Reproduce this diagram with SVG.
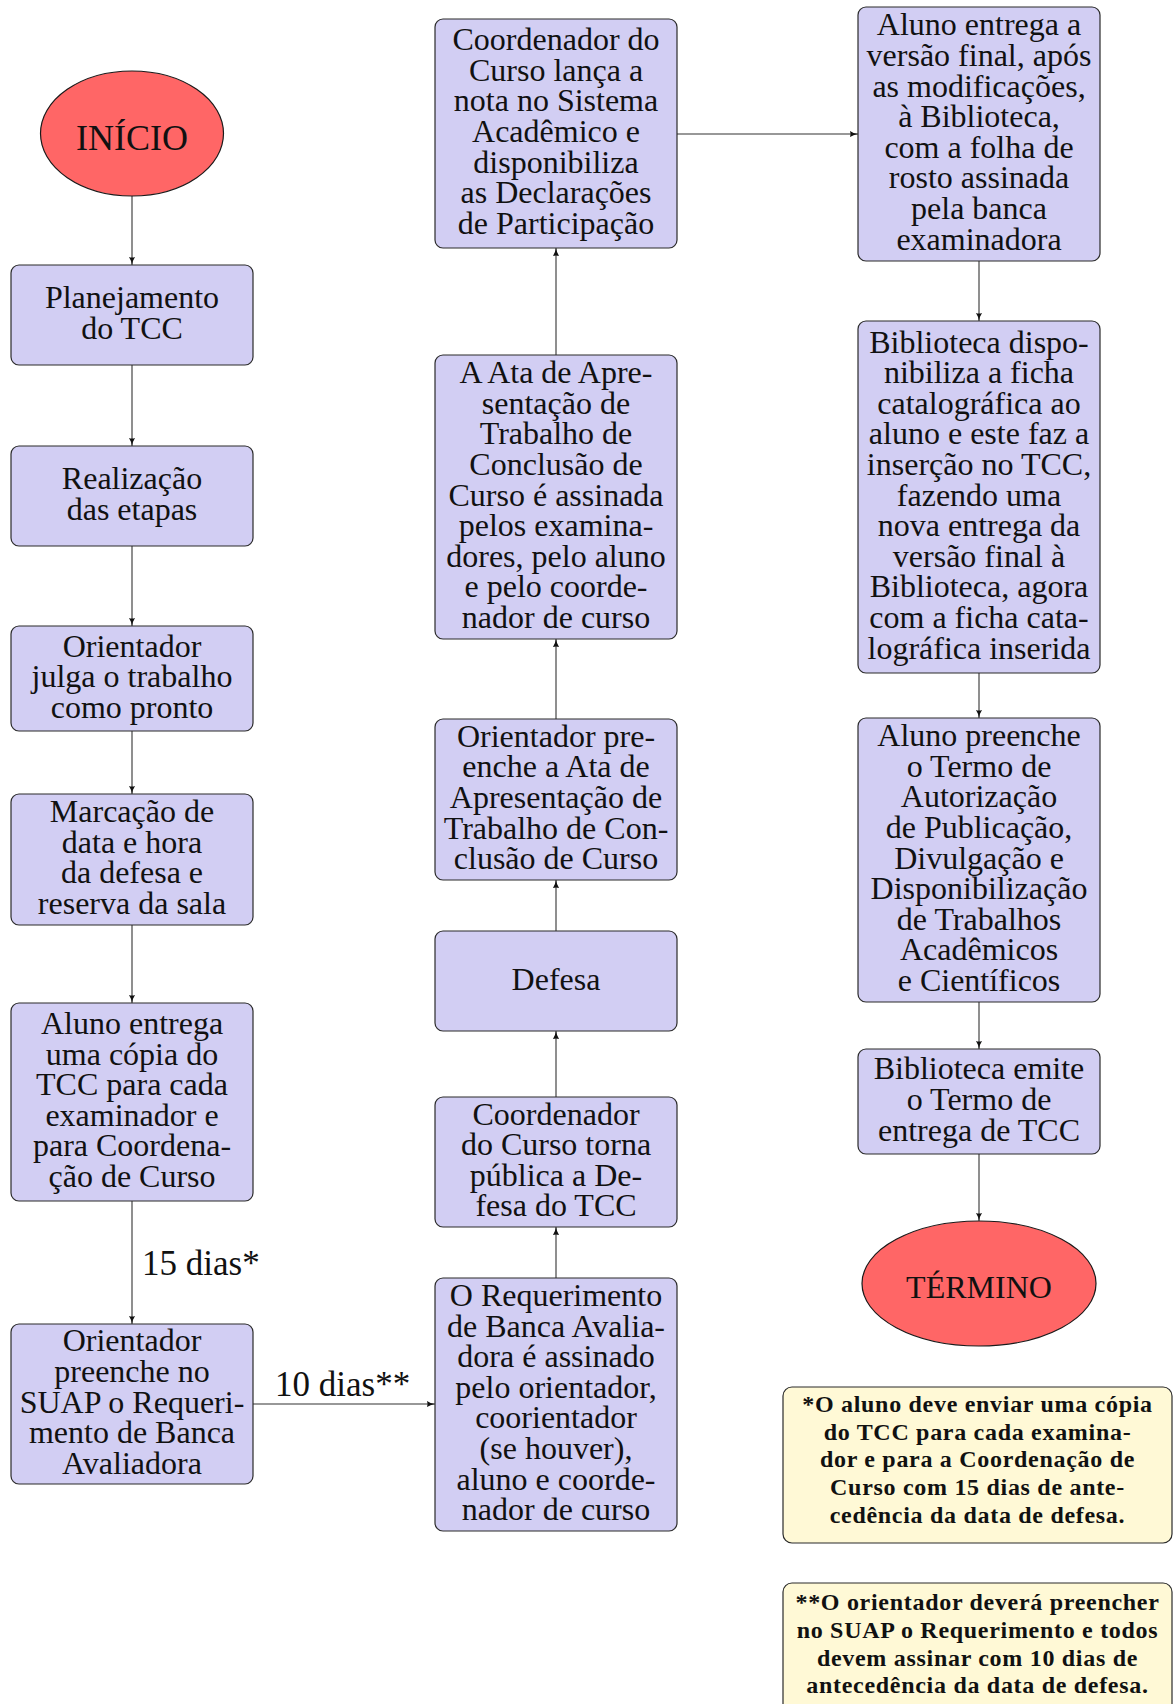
<svg xmlns="http://www.w3.org/2000/svg" width="1175" height="1704" viewBox="0 0 1175 1704">
<defs>
<style>
.box{fill:#D2CEF3;stroke:#2b2b2b;stroke-width:1.2}
.term{fill:#FF6666;stroke:#1a1a1a;stroke-width:1.2}
.note{fill:#FFF9D6;stroke:#2b2b2b;stroke-width:1.2}
.t{font-family:"Liberation Serif","Times New Roman",serif;font-size:32px;fill:#111;text-anchor:middle}
.nt{font-family:"Liberation Serif","Times New Roman",serif;font-size:24px;font-weight:bold;letter-spacing:0.7px;fill:#111;text-anchor:middle}
.lbl{font-family:"Liberation Serif","Times New Roman",serif;font-size:35px;fill:#111}
.c{fill:none;stroke:#333;stroke-width:1.1;marker-end:url(#arr)}
</style>
<marker id="arr" viewBox="0 0 10 10" refX="10" refY="5" markerWidth="8" markerHeight="8" orient="auto" markerUnits="userSpaceOnUse">
<path d="M0,1.2 Q4,4 10,5 Q4,6 0,8.8 Q1.5,5 0,1.2 Z" fill="#111"/>
</marker>
</defs>
<rect width="1175" height="1704" fill="#fff"/>

<g id="connectors">
<path class="c" d="M132,196 V265"/>
<path class="c" d="M132,365 V446"/>
<path class="c" d="M132,546 V626"/>
<path class="c" d="M132,731 V794"/>
<path class="c" d="M132,925 V1003"/>
<path class="c" d="M132,1201 V1324"/>
<path class="c" d="M253,1404 H435"/>
<path class="c" d="M556,1278 V1227"/>
<path class="c" d="M556,1097 V1031"/>
<path class="c" d="M556,931 V880"/>
<path class="c" d="M556,719 V639"/>
<path class="c" d="M556,355 V248"/>
<path class="c" d="M677,134 H858"/>
<path class="c" d="M979,261 V321"/>
<path class="c" d="M979,673 V718"/>
<path class="c" d="M979,1002 V1049"/>
<path class="c" d="M979,1154 V1221"/>
<text class="lbl" x="142" y="1275">15 dias*</text>
<text class="lbl" x="275" y="1396">10 dias**</text>
</g>

<g id="inicio">
<ellipse class="term" cx="132" cy="133.5" rx="91.5" ry="62.5"/>
<text class="t" x="132" y="150" style="font-size:36px">INÍCIO</text>
</g>

<g id="planejamento">
<rect class="box" x="11" y="265" width="242" height="100" rx="8"/>
<text class="t"><tspan x="132" y="308.2">Planejamento</tspan><tspan x="132" y="338.8">do TCC</tspan></text>
</g>

<g id="realizacao">
<rect class="box" x="11" y="446" width="242" height="100" rx="8"/>
<text class="t"><tspan x="132" y="489.2">Realização</tspan><tspan x="132" y="519.8">das etapas</tspan></text>
</g>

<g id="julga">
<rect class="box" x="11" y="626" width="242" height="105" rx="8"/>
<text class="t"><tspan x="132" y="656.5">Orientador</tspan><tspan x="132" y="687.1">julga o trabalho</tspan><tspan x="132" y="717.7">como pronto</tspan></text>
</g>

<g id="marcacao">
<rect class="box" x="11" y="794" width="242" height="131" rx="8"/>
<text class="t"><tspan x="132" y="822.1">Marcação de</tspan><tspan x="132" y="852.7">data e hora</tspan><tspan x="132" y="883.3">da defesa e</tspan><tspan x="132" y="913.9">reserva da sala</tspan></text>
</g>

<g id="entrega-copia">
<rect class="box" x="11" y="1003" width="242" height="198" rx="8"/>
<text class="t"><tspan x="132" y="1034">Aluno entrega</tspan><tspan x="132" y="1064.6">uma cópia do</tspan><tspan x="132" y="1095.2">TCC para cada</tspan><tspan x="132" y="1125.8">examinador e</tspan><tspan x="132" y="1156.4">para Coordena-</tspan><tspan x="132" y="1187">ção de Curso</tspan></text>
</g>

<g id="suap">
<rect class="box" x="11" y="1324" width="242" height="160" rx="8"/>
<text class="t"><tspan x="132" y="1351.3">Orientador</tspan><tspan x="132" y="1381.9">preenche no</tspan><tspan x="132" y="1412.5">SUAP o Requeri-</tspan><tspan x="132" y="1443.1">mento de Banca</tspan><tspan x="132" y="1473.7">Avaliadora</tspan></text>
</g>

<g id="requerimento">
<rect class="box" x="435" y="1278" width="242" height="253" rx="8"/>
<text class="t"><tspan x="556" y="1305.9">O Requerimento</tspan><tspan x="556" y="1336.5">de Banca Avalia-</tspan><tspan x="556" y="1367.1">dora é assinado</tspan><tspan x="556" y="1397.7">pelo orientador,</tspan><tspan x="556" y="1428.3">coorientador</tspan><tspan x="556" y="1458.9">(se houver),</tspan><tspan x="556" y="1489.5">aluno e coorde-</tspan><tspan x="556" y="1520.1">nador de curso</tspan></text>
</g>

<g id="publica">
<rect class="box" x="435" y="1097" width="242" height="130" rx="8"/>
<text class="t"><tspan x="556" y="1124.6">Coordenador</tspan><tspan x="556" y="1155.2">do Curso torna</tspan><tspan x="556" y="1185.8">pública a De-</tspan><tspan x="556" y="1216.4">fesa do TCC</tspan></text>
</g>

<g id="defesa">
<rect class="box" x="435" y="931" width="242" height="100" rx="8"/>
<text class="t" x="556" y="989.5">Defesa</text>
</g>

<g id="preenche-ata">
<rect class="box" x="435" y="719" width="242" height="161" rx="8"/>
<text class="t"><tspan x="556" y="746.8">Orientador pre-</tspan><tspan x="556" y="777.4">enche a Ata de</tspan><tspan x="556" y="808">Apresentação de</tspan><tspan x="556" y="838.6">Trabalho de Con-</tspan><tspan x="556" y="869.2">clusão de Curso</tspan></text>
</g>

<g id="ata-assinada">
<rect class="box" x="435" y="355" width="242" height="284" rx="8"/>
<text class="t"><tspan x="556" y="383.1">A Ata de Apre-</tspan><tspan x="556" y="413.7">sentação de</tspan><tspan x="556" y="444.3">Trabalho de</tspan><tspan x="556" y="474.9">Conclusão de</tspan><tspan x="556" y="505.5">Curso é assinada</tspan><tspan x="556" y="536.1">pelos examina-</tspan><tspan x="556" y="566.7">dores, pelo aluno</tspan><tspan x="556" y="597.3">e pelo coorde-</tspan><tspan x="556" y="627.9">nador de curso</tspan></text>
</g>

<g id="nota-sistema">
<rect class="box" x="435" y="19" width="242" height="229" rx="8"/>
<text class="t"><tspan x="556" y="50.2">Coordenador do</tspan><tspan x="556" y="80.8">Curso lança a</tspan><tspan x="556" y="111.4">nota no Sistema</tspan><tspan x="556" y="142">Acadêmico e</tspan><tspan x="556" y="172.6">disponibiliza</tspan><tspan x="556" y="203.2">as Declarações</tspan><tspan x="556" y="233.8">de Participação</tspan></text>
</g>

<g id="versao-final">
<rect class="box" x="858" y="7" width="242" height="254" rx="8"/>
<text class="t"><tspan x="979" y="35.4">Aluno entrega a</tspan><tspan x="979" y="66">versão final, após</tspan><tspan x="979" y="96.6">as modificações,</tspan><tspan x="979" y="127.2">à Biblioteca,</tspan><tspan x="979" y="157.8">com a folha de</tspan><tspan x="979" y="188.4">rosto assinada</tspan><tspan x="979" y="219">pela banca</tspan><tspan x="979" y="249.6">examinadora</tspan></text>
</g>

<g id="ficha">
<rect class="box" x="858" y="321" width="242" height="352" rx="8"/>
<text class="t"><tspan x="979" y="352.5">Biblioteca dispo-</tspan><tspan x="979" y="383.1">nibiliza a ficha</tspan><tspan x="979" y="413.7">catalográfica ao</tspan><tspan x="979" y="444.3">aluno e este faz a</tspan><tspan x="979" y="474.9">inserção no TCC,</tspan><tspan x="979" y="505.5">fazendo uma</tspan><tspan x="979" y="536.1">nova entrega da</tspan><tspan x="979" y="566.7">versão final à</tspan><tspan x="979" y="597.3">Biblioteca, agora</tspan><tspan x="979" y="627.9">com a ficha cata-</tspan><tspan x="979" y="658.5">lográfica inserida</tspan></text>
</g>

<g id="termo-autorizacao">
<rect class="box" x="858" y="718" width="242" height="284" rx="8"/>
<text class="t"><tspan x="979" y="746.1">Aluno preenche</tspan><tspan x="979" y="776.7">o Termo de</tspan><tspan x="979" y="807.3">Autorização</tspan><tspan x="979" y="837.9">de Publicação,</tspan><tspan x="979" y="868.5">Divulgação e</tspan><tspan x="979" y="899.1">Disponibilização</tspan><tspan x="979" y="929.7">de Trabalhos</tspan><tspan x="979" y="960.3">Acadêmicos</tspan><tspan x="979" y="990.9">e Científicos</tspan></text>
</g>

<g id="termo-entrega">
<rect class="box" x="858" y="1049" width="242" height="105" rx="8"/>
<text class="t"><tspan x="979" y="1079.4">Biblioteca emite</tspan><tspan x="979" y="1110">o Termo de</tspan><tspan x="979" y="1140.6">entrega de TCC</tspan></text>
</g>

<g id="termino">
<ellipse class="term" cx="979" cy="1283.5" rx="117" ry="62.5"/>
<text class="t" x="979" y="1298">TÉRMINO</text>
</g>

<g id="nota1">
<rect class="note" x="783" y="1387" width="389" height="156" rx="9"/>
<text class="nt"><tspan x="977.5" y="1412">*O aluno deve enviar uma cópia</tspan><tspan x="977.5" y="1439.5">do TCC para cada examina-</tspan><tspan x="977.5" y="1467">dor e para a Coordenação de</tspan><tspan x="977.5" y="1495">Curso com 15 dias de ante-</tspan><tspan x="977.5" y="1523">cedência da data de defesa.</tspan></text>
</g>

<g id="nota2">
<rect class="note" x="783" y="1583" width="389" height="140" rx="9"/>
<text class="nt"><tspan x="977.5" y="1610">**O orientador deverá preencher</tspan><tspan x="977.5" y="1637.5">no SUAP o Requerimento e todos</tspan><tspan x="977.5" y="1665.5">devem assinar com 10 dias de</tspan><tspan x="977.5" y="1693">antecedência da data de defesa.</tspan></text>
</g>
</svg>
